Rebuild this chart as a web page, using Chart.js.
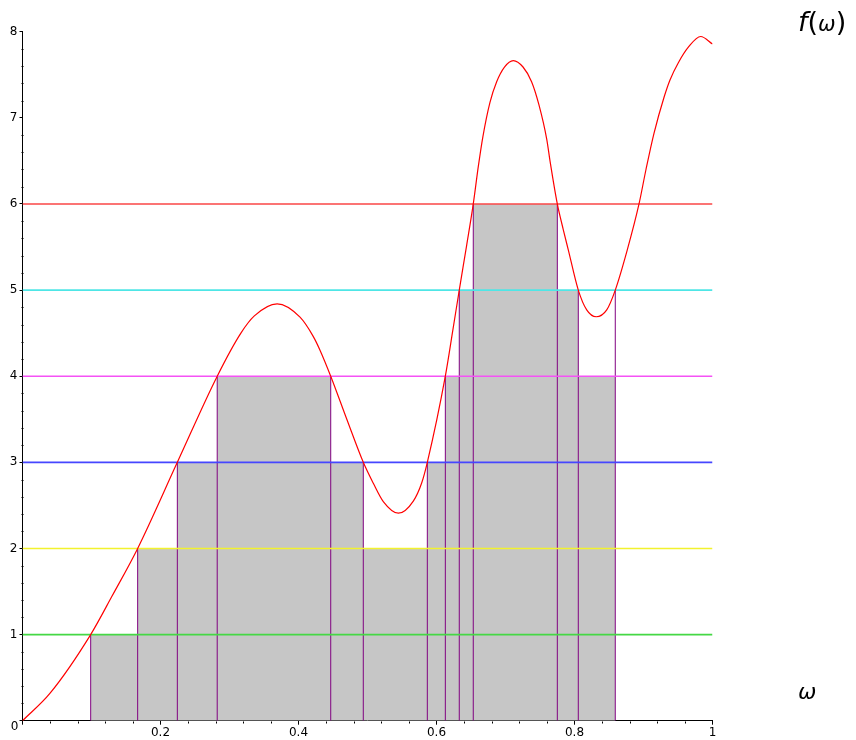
<!DOCTYPE html>
<html>
<head>
<meta charset="utf-8">
<script src="https://cdn.jsdelivr.net/npm/chart.js@4.4.1/dist/chart.umd.min.js"></script>
<style>
html, body { margin: 0; padding: 0; background: #fff; }
#wrap { position: relative; width: 856px; height: 740px; }
#c { position: absolute; left: 0; top: 0; }
.lbl { position: absolute; color: #000; font-family: "DejaVu Sans", sans-serif; white-space: nowrap; line-height: 1; }
</style>
</head>
<body>
<div id="wrap">
  <canvas id="c" width="856" height="740"></canvas>
  <div class="lbl" style="left:798px; top:8px; font-size:27px;"><i>f</i>(<i style="font-size:21px;">ω</i>)</div>
  <div class="lbl" style="left:798px; top:681px; font-size:22px;"><i>ω</i></div>
</div>
<script>
// The function f(ω), sampled along the curve
const omega = [0, 0.040, 0.0988, 0.130, 0.1669, 0.2244, 0.2822, 0.3165, 0.336, 0.369,
  0.4022, 0.4215, 0.431, 0.4467, 0.470, 0.4939, 0.5084, 0.5229, 0.5447, 0.5664,
  0.5785, 0.5867, 0.6128, 0.6238, 0.6330, 0.6437, 0.6533, 0.6605, 0.6672, 0.6775,
  0.6872, 0.6985, 0.7113, 0.7254, 0.7378, 0.7485, 0.7598, 0.7645, 0.7751, 0.7838,
  0.7910, 0.8055, 0.8177, 0.8315, 0.8467, 0.8591, 0.8765, 0.8935, 0.9036, 0.9152,
  0.9302, 0.9384, 0.9505, 0.9650, 0.9829, 1.0];
const fOmega = [0, 0.32, 1, 1.45, 2, 3, 4, 4.50, 4.70, 4.84,
  4.685, 4.46, 4.305, 4, 3.50, 3, 2.757, 2.544, 2.409, 2.55,
  2.76, 3, 4, 4.54, 5, 5.52, 6, 6.43, 6.78, 7.18,
  7.42, 7.59, 7.665, 7.59, 7.42, 7.15, 6.75, 6.50, 6, 5.70,
  5.467, 5, 4.77, 4.69, 4.77, 5, 5.467, 6, 6.40, 6.82,
  7.25, 7.44, 7.64, 7.82, 7.944, 7.856];

// Horizontal levels of the range partition
const levels = [1, 2, 3, 4, 5, 6];
// Points where f crosses a level, and the level crossed there
const cutX = [0.0988, 0.1669, 0.2244, 0.2822, 0.4467, 0.4939, 0.5867, 0.6128, 0.6330, 0.6533, 0.7751, 0.8055, 0.8591];
const cutLevel = [1, 2, 3, 4, 4, 3, 3, 4, 5, 6, 6, 5, 5];
// Height of the simple function on each strip [cutX[i], cutX[i+1]]
const stepHeights = [1, 2, 3, 4, 3, 2, 3, 4, 5, 6, 5, 4];

// Axis ticks
const xTickLabels = ['0.2', '0.4', '0.6', '0.8', '1'];
const yTickLabels = ['1', '2', '3', '4', '5', '6', '7', '8'];

const levelColors = ['#45d845', '#f2f22e', '#4646ff', '#f552f5', '#4ee6e6', '#fa4646'];
const FONT = '"DejaVu Sans", sans-serif';
Chart.defaults.color = '#000';
Chart.defaults.font.family = FONT;
Chart.defaults.font.size = 12;

const curveData = omega.map((x, i) => ({ x: x, y: fOmega[i] }));
const stepData = cutX.map((x, i) => ({ x: x, y: i < stepHeights.length ? stepHeights[i] : 0 }));
const cutData = [];
cutX.forEach((x, i) => {
  cutData.push({ x: x, y: 0 }, { x: x, y: cutLevel[i] }, { x: x, y: null });
});

const datasets = [];
// first in the list is painted last (on top)
datasets.push({
  data: curveData, borderColor: '#ff0000', borderWidth: 1.2, pointRadius: 0,
  cubicInterpolationMode: 'monotone', fill: false
});
levels.forEach((k, i) => {
  datasets.push({
    data: [{ x: 0, y: k }, { x: 1, y: k }], borderColor: levelColors[i],
    borderWidth: 1.6, pointRadius: 0, fill: false
  });
});
datasets.push({
  data: cutData, borderColor: '#800080', borderWidth: 1, pointRadius: 0,
  spanGaps: false, fill: false
});
datasets.push({
  data: stepData, stepped: 'before', fill: 'origin', backgroundColor: '#c6c6c6',
  borderColor: 'rgba(0,0,0,0)', borderWidth: 0, pointRadius: 0
});

// small minor ticks on both axes plus the shared origin label
const axisDecor = {
  id: 'axisDecor',
  afterDraw(chart) {
    const { ctx, scales: { x, y } } = chart;
    const ax = Math.round(x.left) + 0.5;
    const ay = Math.round(y.bottom) + 0.5;
    ctx.save();
    ctx.strokeStyle = '#000';
    ctx.lineWidth = 1;
    ctx.beginPath();
    for (let i = 1; i < 40; i++) {
      if (i % 5 === 0) continue;
      const py = Math.round(y.getPixelForValue(i * 0.2)) + 0.5;
      ctx.moveTo(ax - 2, py); ctx.lineTo(ax, py);
    }
    for (let i = 1; i < 25; i++) {
      if (i % 5 === 0) continue;
      const px = Math.round(x.getPixelForValue(i * 0.04)) + 0.5;
      ctx.moveTo(px, ay); ctx.lineTo(px, ay + 2);
    }
    ctx.stroke();
    ctx.fillStyle = '#000';
    ctx.font = '12px ' + FONT;
    ctx.textAlign = 'center';
    ctx.textBaseline = 'middle';
    ctx.fillText('0', x.left - 8, y.bottom + 6);
    ctx.restore();
  }
};

new Chart(document.getElementById('c'), {
  type: 'line',
  data: { datasets: datasets },
  plugins: [axisDecor],
  options: {
    responsive: false,
    animation: false,
    devicePixelRatio: 1,
    layout: { padding: { top: 31.7, right: 143.5, left: 0, bottom: 0 } },
    plugins: { legend: { display: false }, tooltip: { enabled: false } },
    elements: { line: { tension: 0 } },
    scales: {
      x: {
        type: 'linear', min: 0, max: 1,
        afterFit(s) { s.height = 19.3; },
        border: { display: true, color: '#000', width: 1 },
        grid: { drawOnChartArea: false, drawTicks: true, tickLength: 4, color: '#000' },
        ticks: {
          stepSize: 0.2, padding: 1, maxRotation: 0, autoSkip: false,
          callback: (v) => { const i = Math.round(v / 0.2) - 1; return i >= 0 ? xTickLabels[i] : ''; }
        }
      },
      y: {
        type: 'linear', min: 0, max: 8,
        afterFit(s) { s.width = 22.5; },
        border: { display: true, color: '#000', width: 1 },
        grid: { drawOnChartArea: false, drawTicks: true, tickLength: 3, color: '#000' },
        ticks: {
          stepSize: 1, padding: 2, autoSkip: false,
          callback: (v) => { const i = Math.round(v) - 1; return i >= 0 ? yTickLabels[i] : ''; }
        }
      }
    }
  }
});
</script>
</body>
</html>
